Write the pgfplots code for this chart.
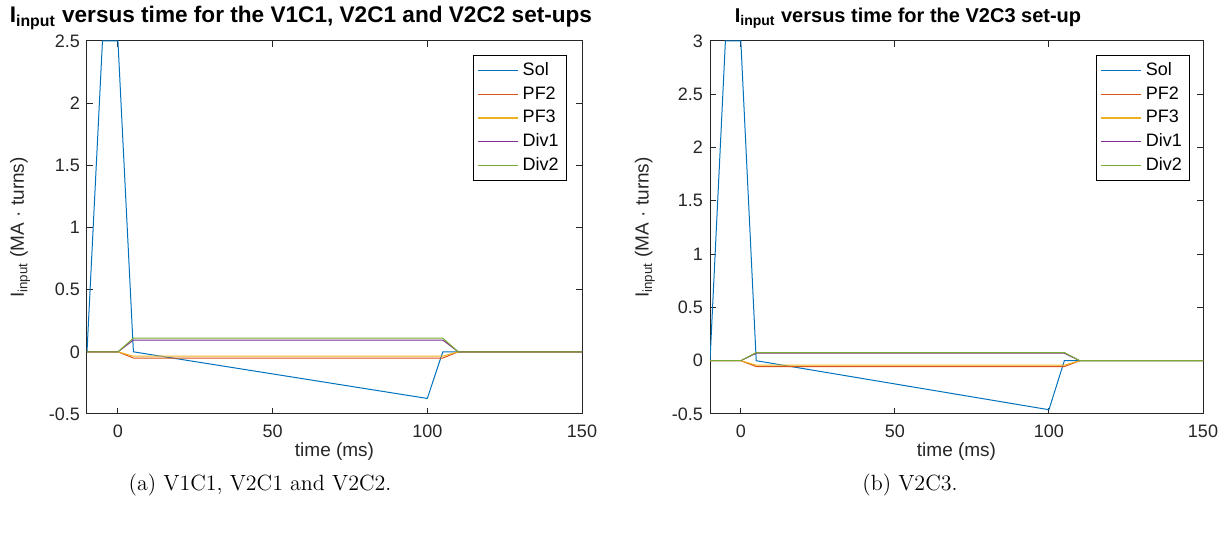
\documentclass[border=0pt]{standalone}
\usepackage{fontspec}
\newfontfamily\arial{Liberation Sans}
\usepackage{pgfplots}
\pgfplotsset{compat=1.18}
\definecolor{mblue}{HTML}{0072BD}
\definecolor{morange}{HTML}{D95319}
\definecolor{myellow}{HTML}{EDB120}
\definecolor{mpurple}{HTML}{7E2F8E}
\definecolor{mgreen}{HTML}{77AC30}
\definecolor{axgray}{rgb}{0.15,0.15,0.15}

\pgfplotsset{
  matlab/.style={
    scale only axis,
    anchor=south west,
    xmin=-10, xmax=150,
    xtick={0,50,100,150},
    tick align=inside,
    major tick length=3pt,
    axis line style={axgray, line width=0.5pt},
    tick style={axgray, line width=0.5pt},
    every tick label/.append style={font=\arial\fontsize{9}{10}\selectfont, text=axgray},
    xticklabel style={yshift=-2pt},
    /pgf/number format/assume math mode=true,
    label style={font=\arial\fontsize{9.5}{11}\selectfont, text=axgray},
    xlabel={time (ms)},
    ylabel={I\textsubscript{input} (MA · turns)},
    legend cell align=left,
    legend style={font=\arial\fontsize{9}{10}\selectfont, draw=black, line width=0.4pt,
      fill=white, inner xsep=2pt, inner ysep=1.5pt, row sep=0pt, anchor=north east},
    legend image code/.code={\draw[##1, line width=0.6pt] (0pt,0pt) -- (20pt,0pt);},
    every axis plot/.append style={line width=0.5pt, mark=none},
  }
}

\begin{document}
\begin{tikzpicture}
\useasboundingbox (0,0) rectangle (616pt,-272pt);

% (a) V1C1, V2C1 and V2C2
\begin{axis}[matlab,
    at={(43.5pt,-207pt)},
    width=247.5pt, height=186.5pt,
    ymin=-0.5, ymax=2.5,
    ytick={-0.5,0,0.5,1,1.5,2,2.5},
    ylabel style={at={(axis description cs:-0.135,0.5)}, anchor=center},
    xlabel style={at={(axis description cs:0.5,-0.1)}, anchor=center},
    legend style={at={(0.97,0.962)}},
  ]
  \addplot[mblue] coordinates {(-10,0) (-5,2.5) (0,2.5) (5,0) (100,-0.375) (105,0) (150,0)};
  \addplot[morange] coordinates {(-10,0) (0,0) (5,-0.05) (105,-0.05) (110,0) (150,0)};
  \addplot[myellow] coordinates {(-10,0) (0,0) (5,-0.035) (105,-0.035) (110,0) (150,0)};
  \addplot[mpurple] coordinates {(-10,0) (0,0) (5,0.095) (105,0.095) (110,0) (150,0)};
  \addplot[mgreen] coordinates {(-10,0) (0,0) (5,0.11) (105,0.11) (110,0) (150,0)};
  \legend{Sol,PF2,PF3,Div1,Div2}
\end{axis}

% (b) V2C3
\begin{axis}[matlab,
    at={(355pt,-207pt)},
    width=246.5pt, height=186.5pt,
    ymin=-0.5, ymax=3,
    ytick={-0.5,0,0.5,1,1.5,2,2.5,3},
    ylabel style={at={(axis description cs:-0.132,0.5)}, anchor=center},
    xlabel style={at={(axis description cs:0.5,-0.1)}, anchor=center},
    legend style={at={(0.974,0.962)}},
  ]
  \addplot[mblue] coordinates {(-10,0) (-5,3) (0,3) (5,0) (100,-0.46) (105,0) (150,0)};
  \addplot[morange] coordinates {(-10,0) (0,0) (5,-0.055) (105,-0.055) (110,0) (150,0)};
  \addplot[myellow] coordinates {(-10,0) (0,0) (5,-0.042) (105,-0.042) (110,0) (150,0)};
  \addplot[mpurple] coordinates {(-10,0) (0,0) (5,0.07) (105,0.07) (110,0) (150,0)};
  \addplot[mgreen] coordinates {(-10,0) (0,0) (5,0.077) (105,0.077) (110,0) (150,0)};
  \legend{Sol,PF2,PF3,Div1,Div2}
\end{axis}

% titles
\node[font=\arial\bfseries\fontsize{11.3}{13}\selectfont, text=black] at (150.5pt,-9pt)
  {I\textsubscript{input} versus time for the V1C1, V2C1 and V2C2 set-ups};
\node[font=\arial\bfseries\fontsize{10}{12}\selectfont, text=black] at (454pt,-9pt)
  {I\textsubscript{input} versus time for the V2C3 set-up};

% captions
\node[font=\fontsize{11}{13}\selectfont] at (130pt,-242.5pt) {(a) V1C1, V2C1 and V2C2.};
\node[font=\fontsize{11}{13}\selectfont] at (455pt,-242.5pt) {(b) V2C3.};
\end{tikzpicture}
\end{document}
